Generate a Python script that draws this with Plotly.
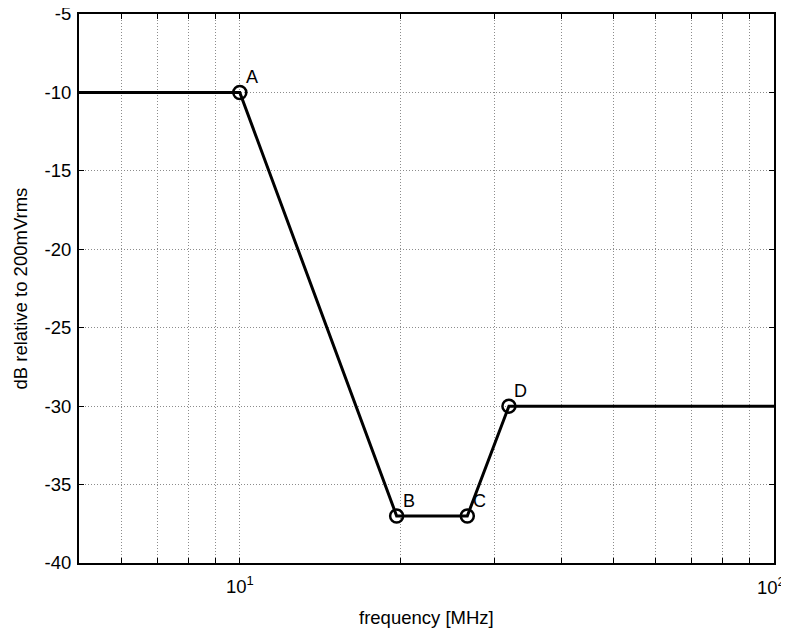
import numpy as np
import plotly.graph_objects as go

# data
freq_line = [5, 10, 19.66, 26.66, 31.9, 100]
db_line = [-10, -10, -37, -37, -30, -30]
pt_freq = [10, 19.66, 26.66, 31.9]
pt_db = [-10, -37, -37, -30]
pt_labels = ["A", "B", "C", "D"]

x_grid = [6, 7, 8, 9, 10, 20, 30, 40, 50, 60, 70, 80, 90, 100]
x_ticktext = ["10<sup>1</sup>" if v == 10 else "" for v in x_grid]
x_last_label = "10<sup>2</sup>"
y_ticks = [-40, -35, -30, -25, -20, -15, -10, -5]
y_ticktext = [str(v) for v in y_ticks]

FONT = "Liberation Sans, Arial, sans-serif"

fig = go.Figure()
fig.add_trace(go.Scatter(x=freq_line, y=db_line, mode="lines",
                         line=dict(color="black", width=3), showlegend=False,
                         hoverinfo="skip"))
fig.add_trace(go.Scatter(x=pt_freq, y=pt_db, mode="markers",
                         marker=dict(symbol="circle-open", size=13, color="black",
                                     line=dict(width=2.5, color="black")),
                         showlegend=False))

annotations = []
for f, d, t in zip(pt_freq, pt_db, pt_labels):
    annotations.append(dict(x=np.log10(f), y=d, xref="x", yref="y", text=t,
                            showarrow=False, xshift=12, yshift=15,
                            font=dict(family=FONT, size=18, color="black")))
# last decade label (partly cut at the right edge, as in the original)
annotations.append(dict(x=np.log10(x_grid[-1]), y=0, xref="x", yref="paper", text=x_last_label,
                        showarrow=False, xanchor="left", yanchor="top", xshift=-19, yshift=-9,
                        font=dict(family=FONT, size=18.5, color="black")))
annotations.append(dict(x=0.5, y=0, xref="paper", yref="paper", text="frequency [MHz]",
                        showarrow=False, yshift=-54, yanchor="middle",
                        font=dict(family=FONT, size=18.5, color="black")))
annotations.append(dict(x=0, y=0.5, xref="paper", yref="paper", text="dB relative to 200mVrms",
                        showarrow=False, xshift=-59, xanchor="center", textangle=-90,
                        font=dict(family=FONT, size=18.5, color="black")))

grid = dict(showgrid=True, gridcolor="#8c8c8c", griddash="1px,2px", gridwidth=1)
common = dict(ticks="inside", ticklen=5, tickcolor="black", tickwidth=1,
              showline=True, linecolor="black", linewidth=2, mirror="ticks",
              zeroline=False, automargin=False, ticklabeloverflow="allow",
              tickfont=dict(family=FONT, size=18.5, color="black"))

# page body has an 8px default margin; the figure is sized to fit the window
fig.update_layout(
    width=781, height=624,
    margin=dict(l=71, r=15, t=6, b=69),
    paper_bgcolor="white", plot_bgcolor="white",
    font=dict(family=FONT, size=18, color="black"),
    xaxis=dict(type="log", range=[np.log10(5), 2],
               tickmode="array", tickvals=x_grid, ticktext=x_ticktext,
               ticklabelstandoff=6, **grid, **common),
    yaxis=dict(range=[-40, -5], tickmode="array", tickvals=y_ticks, ticktext=y_ticktext,
               ticklabelstandoff=2, **grid, **common),
    annotations=annotations,
)

fig.write_html("out.html")
